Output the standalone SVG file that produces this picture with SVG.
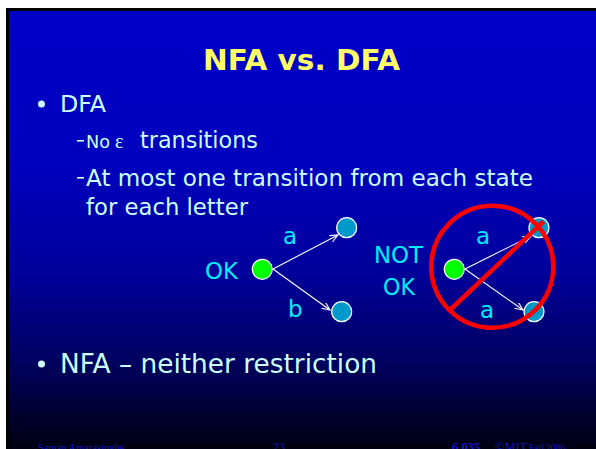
<svg xmlns="http://www.w3.org/2000/svg" width="596" height="449" viewBox="0 0 596 449">
  <style>
    .body { font-family: "DejaVu Sans", Tahoma, Verdana, sans-serif; fill: #CCFFFF; }
    .lbl { font-family: "DejaVu Sans", Tahoma, Verdana, sans-serif; fill: #00EEFF; font-size: 23px; }
    .foot { font-family: "Liberation Serif", "Times New Roman", serif; fill: #1414C8; }
    .edge { stroke: #FFFFFF; stroke-width: 1.1; fill: none; }
    .state { stroke: #FFFFFF; stroke-width: 1.2; }
    .start { fill: #00FF00; }
    .other { fill: #0099CC; }
  </style>
  <defs>
    <linearGradient id="slideBg" x1="0" y1="11" x2="0" y2="449" gradientUnits="userSpaceOnUse">
      <stop offset="0" stop-color="#0000C8"/>
      <stop offset="0.35" stop-color="#0000BE"/>
      <stop offset="0.6" stop-color="#00009A"/>
      <stop offset="0.8" stop-color="#000060"/>
      <stop offset="0.92" stop-color="#000030"/>
      <stop offset="1" stop-color="#000012"/>
    </linearGradient>
    <marker id="arrow" markerWidth="10" markerHeight="8" refX="8" refY="3.5" orient="auto" markerUnits="userSpaceOnUse">
      <path d="M0,0 L8,3.5 L0,7" fill="none" stroke="#FFFFFF" stroke-width="1.1"/>
    </marker>
  </defs>

  <!-- page and slide frame -->
  <rect x="0" y="0" width="596" height="449" fill="#FFFFFF"/>
  <rect x="6" y="8" width="590" height="441" fill="#000000"/>
  <rect x="9" y="11" width="587" height="438" fill="url(#slideBg)"/>

  <!-- title -->
  <text x="301.5" y="70" text-anchor="middle" font-family="'DejaVu Sans', Tahoma, sans-serif" font-weight="bold" font-size="29" fill="#FFFF66" textLength="197" lengthAdjust="spacingAndGlyphs">NFA vs. DFA</text>

  <!-- bullet list -->
  <circle cx="41.5" cy="104" r="3.5" fill="#CCFFFF"/>
  <text class="body" x="60" y="112" font-size="23" textLength="46" lengthAdjust="spacingAndGlyphs">DFA</text>

  <rect x="77" y="140" width="7" height="1.6" fill="#CCFFFF"/>
  <text class="body" x="86" y="148" font-size="18" textLength="24" lengthAdjust="spacingAndGlyphs">No</text>
  <text x="115" y="148" font-family="'Liberation Serif', serif" font-size="20" fill="#CCFFFF">ε</text>
  <text class="body" x="140" y="148" font-size="23" textLength="118" lengthAdjust="spacingAndGlyphs">transitions</text>

  <rect x="77" y="177" width="7" height="1.6" fill="#CCFFFF"/>
  <text class="body" x="86" y="186" font-size="23" textLength="447" lengthAdjust="spacingAndGlyphs">At most one transition from each state</text>
  <text class="body" x="86" y="215" font-size="23" textLength="162" lengthAdjust="spacingAndGlyphs">for each letter</text>

  <circle cx="41.5" cy="364" r="3.5" fill="#CCFFFF"/>
  <text class="body" x="60" y="373" font-size="26" textLength="317" lengthAdjust="spacingAndGlyphs">NFA – neither restriction</text>

  <!-- labels -->
  <text class="lbl" x="205" y="279" textLength="33" lengthAdjust="spacingAndGlyphs">OK</text>
  <text class="lbl" x="283" y="244">a</text>
  <text class="lbl" x="288" y="317">b</text>
  <text class="lbl" x="374" y="263" textLength="49" lengthAdjust="spacingAndGlyphs">NOT</text>
  <text class="lbl" x="383" y="295" textLength="32" lengthAdjust="spacingAndGlyphs">OK</text>
  <text class="lbl" x="476" y="244">a</text>
  <text class="lbl" x="480" y="318">a</text>

  <!-- connectors -->
  <g id="connectors">
    <line class="edge" x1="273" y1="269" x2="338" y2="235" marker-end="url(#arrow)"/>
    <line class="edge" x1="273" y1="269" x2="330" y2="310" marker-end="url(#arrow)"/>
    <line class="edge" x1="465" y1="269" x2="531" y2="236" marker-end="url(#arrow)"/>
    <line class="edge" x1="465" y1="269" x2="523" y2="310" marker-end="url(#arrow)"/>
  </g>

  <!-- deterministic example -->
  <g id="ok-start"><circle class="state start" cx="262.3" cy="269.3" r="10"/></g>
  <g id="ok-a"><circle class="state other" cx="346.7" cy="227.7" r="10"/></g>
  <g id="ok-b"><circle class="state other" cx="341.7" cy="311.7" r="10"/></g>

  <!-- nondeterministic example -->
  <g id="notok-start"><circle class="state start" cx="454.3" cy="269.3" r="10"/></g>
  <g id="notok-a1"><circle class="state other" cx="539" cy="227.7" r="10"/></g>
  <g id="notok-a2"><circle class="state other" cx="534" cy="311.7" r="10"/></g>

  <!-- prohibition sign -->
  <g id="no-sign" fill="none" stroke="#FF0000" stroke-width="4.5">
    <circle cx="492.3" cy="266.7" r="61"/>
    <line x1="450" y1="310" x2="543.5" y2="221.5"/>
  </g>

  <!-- footer -->
  <text class="foot" x="38" y="451" font-size="10.5">Saman Amarasinghe</text>
  <text class="foot" x="273" y="451" font-size="12">23</text>
  <text class="foot" x="452" y="451" font-size="12.5" font-weight="bold">6.035</text>
  <text class="foot" x="495" y="451" font-size="12.5">©MIT</text>
  <text class="foot" x="529" y="451" font-size="9.5">Fall 2006</text>
</svg>
